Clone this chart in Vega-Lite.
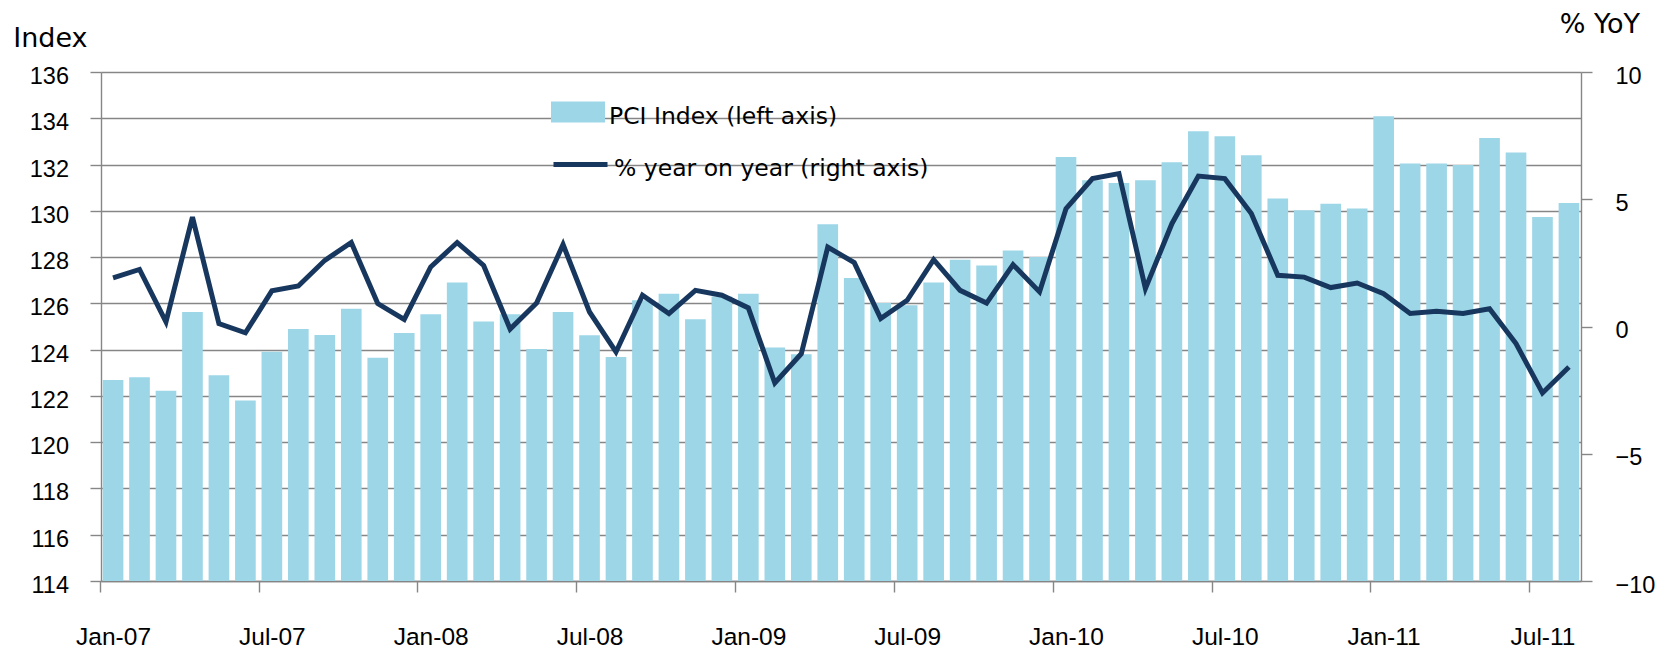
{
  "$schema": "https://vega.github.io/schema/vega-lite/v6.json",
  "autosize": "none",
  "width": 1480,
  "height": 509,
  "padding": {"left": 101, "top": 72, "right": 76, "bottom": 69},
  "background": "white",
  "config": {
    "font": "Liberation Sans",
    "view": {"stroke": null},
    "axis": {
      "domainColor": "#868686",
      "tickColor": "#868686",
      "gridColor": "#868686",
      "domainWidth": 1.4,
      "tickWidth": 1.4,
      "gridWidth": 1.4,
      "gridOpacity": 1,
      "labelFont": "Liberation Sans",
      "labelFontSize": 23.5,
      "labelColor": "#000000",
      "titleFont": "DejaVu Sans",
      "titleFontSize": 27,
      "titleFontWeight": "normal",
      "titleColor": "#000000",
      "tickSize": 11
    },
    "legend": {
      "labelFont": "DejaVu Sans",
      "labelFontSize": 23.5,
      "labelColor": "#000000",
      "labelLimit": 0,
      "padding": 0
    }
  },
  "data": {
    "values": [
      {"month": "Jan-07", "pci": 122.69, "yoy": 1.91},
      {"month": "Feb-07", "pci": 122.81, "yoy": 2.24},
      {"month": "Mar-07", "pci": 122.22, "yoy": 0.18},
      {"month": "Apr-07", "pci": 125.63, "yoy": 4.30},
      {"month": "May-07", "pci": 122.89, "yoy": 0.11},
      {"month": "Jun-07", "pci": 121.80, "yoy": -0.25},
      {"month": "Jul-07", "pci": 123.91, "yoy": 1.40},
      {"month": "Aug-07", "pci": 124.89, "yoy": 1.59},
      {"month": "Sep-07", "pci": 124.63, "yoy": 2.60},
      {"month": "Oct-07", "pci": 125.77, "yoy": 3.30},
      {"month": "Nov-07", "pci": 123.65, "yoy": 0.90},
      {"month": "Dec-07", "pci": 124.72, "yoy": 0.28},
      {"month": "Jan-08", "pci": 125.53, "yoy": 2.34},
      {"month": "Feb-08", "pci": 126.90, "yoy": 3.30},
      {"month": "Mar-08", "pci": 125.22, "yoy": 2.40},
      {"month": "Apr-08", "pci": 125.53, "yoy": -0.10},
      {"month": "May-08", "pci": 124.03, "yoy": 0.92},
      {"month": "Jun-08", "pci": 125.63, "yoy": 3.22},
      {"month": "Jul-08", "pci": 124.62, "yoy": 0.57},
      {"month": "Aug-08", "pci": 123.68, "yoy": -1.00},
      {"month": "Sep-08", "pci": 126.13, "yoy": 1.23},
      {"month": "Oct-08", "pci": 126.42, "yoy": 0.51},
      {"month": "Nov-08", "pci": 125.31, "yoy": 1.42},
      {"month": "Dec-08", "pci": 126.30, "yoy": 1.23},
      {"month": "Jan-09", "pci": 126.42, "yoy": 0.73},
      {"month": "Feb-09", "pci": 124.09, "yoy": -2.22},
      {"month": "Mar-09", "pci": 123.80, "yoy": -1.07},
      {"month": "Apr-09", "pci": 129.42, "yoy": 3.12},
      {"month": "May-09", "pci": 127.10, "yoy": 2.51},
      {"month": "Jun-09", "pci": 126.02, "yoy": 0.31},
      {"month": "Jul-09", "pci": 125.92, "yoy": 1.03},
      {"month": "Aug-09", "pci": 126.90, "yoy": 2.63},
      {"month": "Sep-09", "pci": 127.89, "yoy": 1.42},
      {"month": "Oct-09", "pci": 127.64, "yoy": 0.92},
      {"month": "Nov-09", "pci": 128.29, "yoy": 2.43},
      {"month": "Dec-09", "pci": 128.00, "yoy": 1.36},
      {"month": "Jan-10", "pci": 132.33, "yoy": 4.63},
      {"month": "Feb-10", "pci": 131.32, "yoy": 5.81},
      {"month": "Mar-10", "pci": 131.20, "yoy": 6.01},
      {"month": "Apr-10", "pci": 131.32, "yoy": 1.49},
      {"month": "May-10", "pci": 132.10, "yoy": 4.04},
      {"month": "Jun-10", "pci": 133.44, "yoy": 5.91},
      {"month": "Jul-10", "pci": 133.22, "yoy": 5.81},
      {"month": "Aug-10", "pci": 132.40, "yoy": 4.44},
      {"month": "Sep-10", "pci": 130.53, "yoy": 2.01},
      {"month": "Oct-10", "pci": 130.02, "yoy": 1.94},
      {"month": "Nov-10", "pci": 130.31, "yoy": 1.53},
      {"month": "Dec-10", "pci": 130.10, "yoy": 1.71},
      {"month": "Jan-11", "pci": 134.09, "yoy": 1.29},
      {"month": "Feb-11", "pci": 132.04, "yoy": 0.51},
      {"month": "Mar-11", "pci": 132.04, "yoy": 0.60},
      {"month": "Apr-11", "pci": 131.98, "yoy": 0.51},
      {"month": "May-11", "pci": 133.15, "yoy": 0.70},
      {"month": "Jun-11", "pci": 132.52, "yoy": -0.67},
      {"month": "Jul-11", "pci": 129.73, "yoy": -2.61},
      {"month": "Aug-11", "pci": 130.34, "yoy": -1.59}
    ]
  },
  "encoding": {
    "x": {
      "field": "month",
      "type": "ordinal",
      "sort": null,
      "scale": {"paddingInner": 0.22, "paddingOuter": 0.065},
      "axis": {
        "title": null,
        "labelAngle": 0,
        "labelFontSize": 24.5,
        "values": ["Jan-07", "Jul-07", "Jan-08", "Jul-08", "Jan-09", "Jul-09", "Jan-10", "Jul-10", "Jan-11", "Jul-11"],
        "tickOffset": -13.2,
        "labelOffset": 13.2,
        "labelPadding": 33.5,
        "labelBaseline": "top",
        "grid": false
      }
    }
  },
  "layer": [
    {
      "mark": {"type": "bar"},
      "encoding": {
        "y": {
          "field": "pci",
          "type": "quantitative",
          "scale": {"domain": [114, 136], "zero": false, "nice": false},
          "axis": {
            "values": [114, 116, 118, 120, 122, 124, 126, 128, 130, 132, 134, 136],
            "grid": true,
            "labelPadding": 21.5,
            "labelOffset": 4.5,
            "title": "Index",
            "titleAngle": 0,
            "titleAlign": "left",
            "titleBaseline": "alphabetic",
            "titleX": -88.3,
            "titleY": -26
          }
        },
        "y2": {"datum": 114},
        "fill": {
          "datum": "PCI Index (left axis)",
          "type": "nominal",
          "scale": {"range": ["#9DD6E7"]},
          "legend": {
            "orient": "none",
            "legendX": 450,
            "legendY": 17.8,
            "title": null,
            "symbolType": "M-1,-0.567H1V0.211H-1Z",
            "symbolSize": 2916,
            "symbolStrokeWidth": 0,
            "labelOffset": 4
          }
        }
      }
    },
    {
      "mark": {"type": "line", "strokeWidth": 5, "strokeJoin": "miter"},
      "encoding": {
        "y": {
          "field": "yoy",
          "type": "quantitative",
          "scale": {"domain": [-10, 10], "nice": false},
          "axis": {
            "orient": "right",
            "values": [-10, -5, 0, 5, 10],
            "grid": false,
            "labelPadding": 23,
            "labelOffset": 4,
            "title": "% YoY",
            "titleAngle": 0,
            "titleAlign": "left",
            "titleBaseline": "alphabetic",
            "titleX": -21.7,
            "titleY": -40
          }
        },
        "stroke": {
          "datum": "% year on year (right axis)",
          "type": "nominal",
          "scale": {"range": ["#17375E"]},
          "legend": {
            "orient": "none",
            "legendX": 450,
            "legendY": 67.3,
            "title": null,
            "symbolType": "M-1,-0.16H1",
            "symbolSize": 2916,
            "symbolStrokeWidth": 5,
            "labelOffset": 4
          }
        }
      }
    }
  ],
  "resolve": {"scale": {"y": "independent"}}
}
